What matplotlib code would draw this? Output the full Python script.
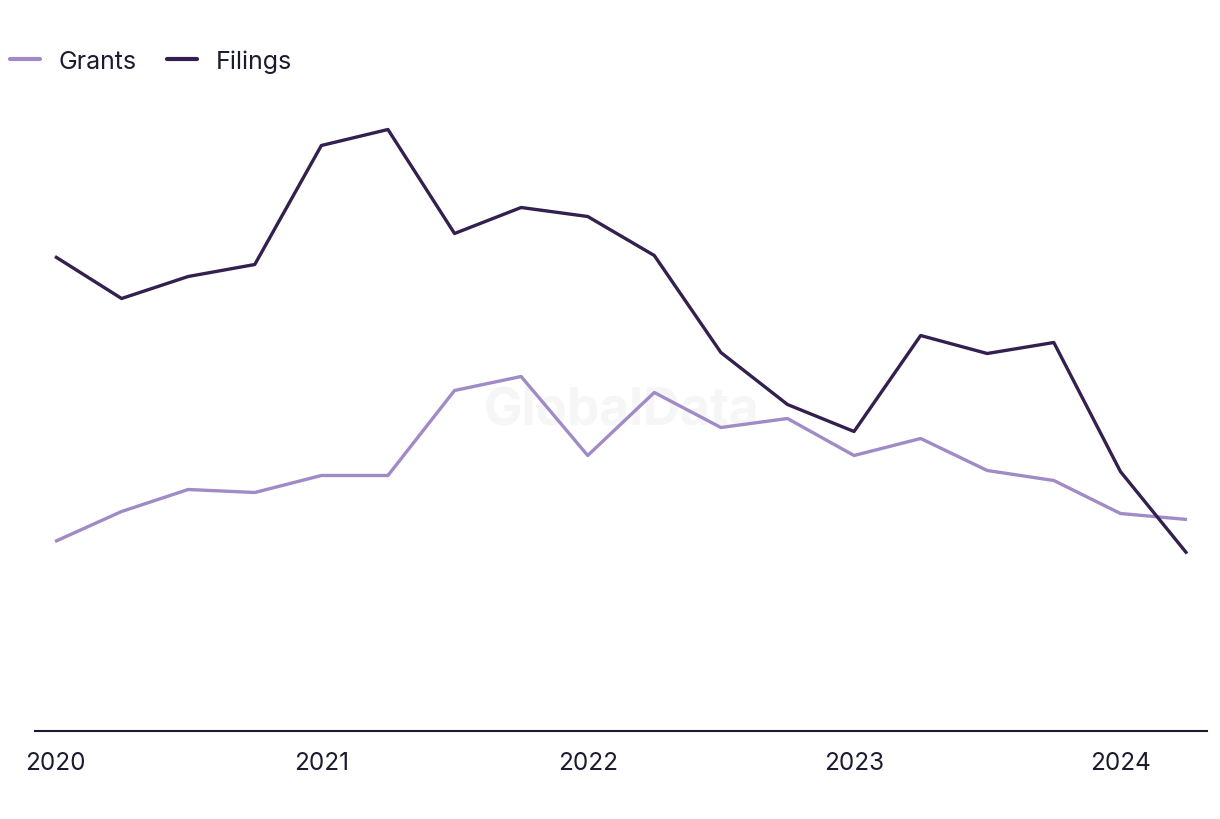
import numpy as np
import matplotlib.pyplot as plt

# quarterly data, 2020 Q1 .. 2024 Q2
quarters = ["2020Q1", "2020Q2", "2020Q3", "2020Q4",
            "2021Q1", "2021Q2", "2021Q3", "2021Q4",
            "2022Q1", "2022Q2", "2022Q3", "2022Q4",
            "2023Q1", "2023Q2", "2023Q3", "2023Q4",
            "2024Q1", "2024Q2"]
filings = [474, 432, 454, 466, 585, 601, 497, 523, 514,
           475, 378, 326, 299, 395, 377, 388, 259, 177]
grants = [189, 219, 241, 238, 255, 255, 340, 354, 275,
          338, 303, 312, 275, 292, 260, 250, 217, 211]
year_ticks = [2020, 2021, 2022, 2023, 2024]

plt.rcParams['font.family'] = ['Inter', 'DejaVu Sans']

text_col = '#1b1b2f'
grant_col = '#a08bc6'
filing_col = '#33204f'

x = np.array([int(q[:4]) + (int(q[-1]) - 1) * 0.25 for q in quarters])

fig = plt.figure(figsize=(12.2, 8.2), dpi=100)
ax = fig.add_axes([35 / 1220, 88.5 / 820, (1207 - 35) / 1220, 700 / 820])

ax.plot(x, grants, color=grant_col, lw=2.4, label='Grants', solid_capstyle='butt')
ax.plot(x, filings, color=filing_col, lw=2.4, label='Filings', solid_capstyle='butt')

ax.set_xlim(2020 - 20 / 266.25, 2024.25 + 20 / 266.25)
ax.set_ylim(0, 700)
ax.set_xticks(year_ticks)
ax.set_xticklabels([str(y) for y in year_ticks])
ax.tick_params(axis='x', length=0, pad=14.5, labelsize=17.5, labelcolor=text_col)
ax.set_yticks([])
for s in ['top', 'right', 'left']:
    ax.spines[s].set_visible(False)
ax.spines['bottom'].set_color(text_col)
ax.spines['bottom'].set_linewidth(1.5)

# faint watermark
ax.text(0.5, 0.457, 'GlobalData', transform=ax.transAxes, ha='center', va='center',
        fontsize=37, fontweight='bold', color='#f6f6f6', zorder=0)

leg = fig.legend(loc='center left', bbox_to_anchor=(10 / 1220, 1 - 62 / 820), ncol=2,
                 frameon=False, fontsize=18, borderpad=0, borderaxespad=0,
                 handlelength=1.2, handletextpad=0.75, columnspacing=1.2)
for t in leg.get_texts():
    t.set_color(text_col)
for h in leg.get_lines():
    h.set_linewidth(3)
    h.set_solid_capstyle('round')

fig.savefig('out.png', dpi=100)
